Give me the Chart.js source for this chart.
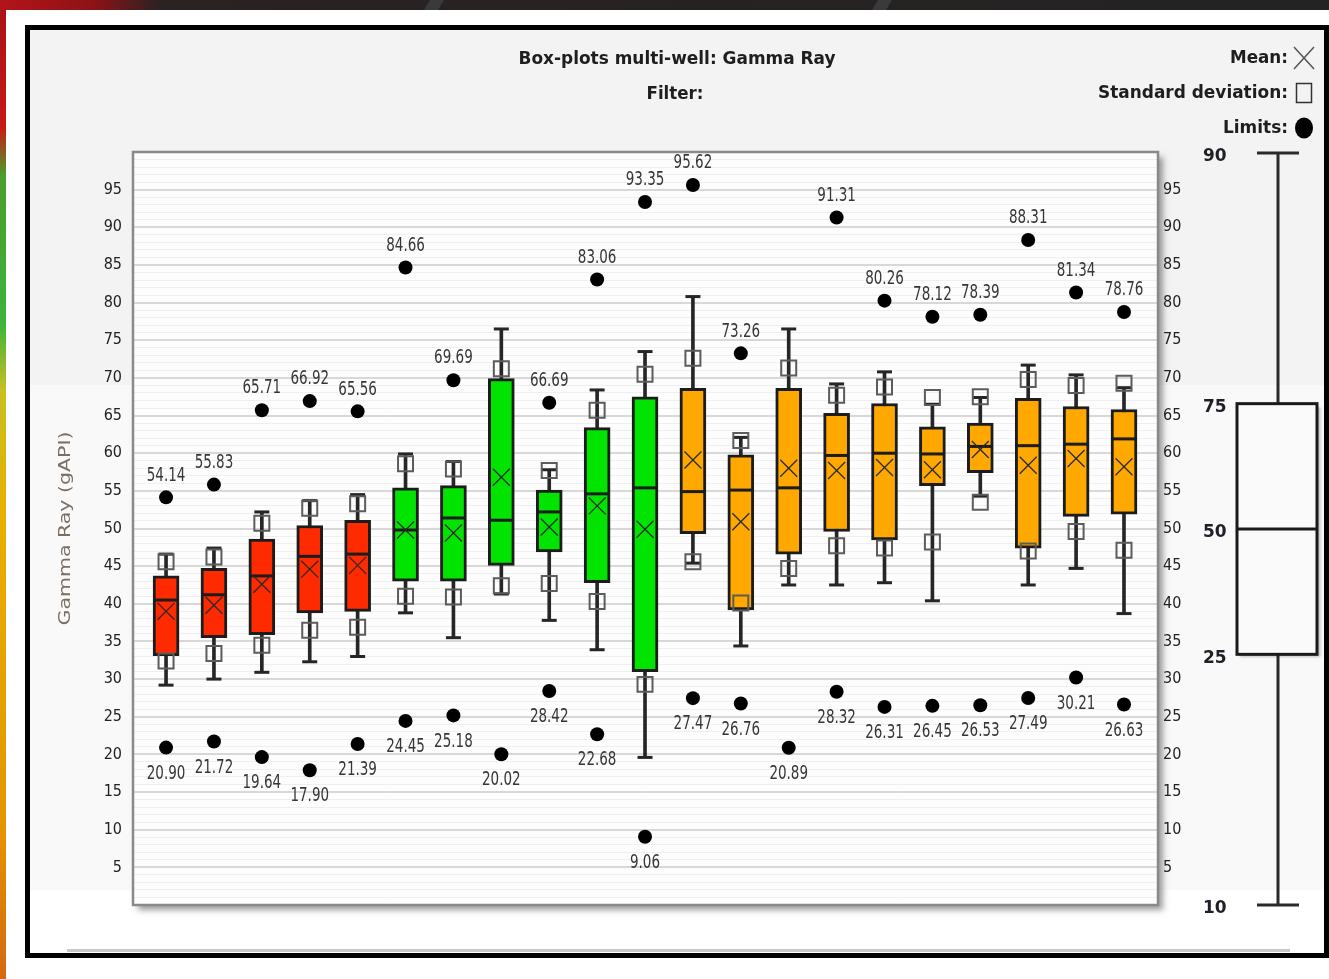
<!DOCTYPE html>
<html>
<head>
<meta charset="utf-8">
<title>Box-plots multi-well: Gamma Ray</title>
<script src="https://cdn.jsdelivr.net/npm/chart.js@4.4.1/dist/chart.umd.min.js"></script>
<style>
  html, body { margin: 0; padding: 0; background: #ffffff; }
  #wrap { position: relative; width: 1329px; height: 979px; overflow: hidden; }
  canvas { display: block; }
</style>
</head>
<body>
<div id="wrap"><canvas id="chart" width="1329" height="979"></canvas></div>
<script>
// Gamma Ray (gAPI) statistics, one box per well
const wells = ['W01','W02','W03','W04','W05','W06','W07','W08','W09','W10','W11',
               'W12','W13','W14','W15','W16','W17','W18','W19','W20','W21'];
const wellGroup = [0,0,0,0,0, 1,1,1,1,1,1, 2,2,2,2,2,2,2,2,2,2];
const groupColors = ['#ff2a00', '#00e400', '#ffa800'];

const whiskerLow  = [29.2, 30.0, 30.9, 32.3, 33.0, 38.8, 35.5, 41.3, 37.8, 33.9, 19.6, 45.4, 34.4, 42.5, 42.5, 42.8, 40.4, 54.3, 42.5, 44.7, 38.7];
const q1          = [33.1, 35.5, 35.9, 38.8, 39.0, 43.0, 43.0, 45.1, 46.9, 42.8, 31.0, 49.3, 39.2, 46.6, 49.6, 48.5, 55.7, 57.4, 47.4, 51.6, 51.9];
const median      = [40.5, 41.2, 43.7, 46.3, 46.6, 49.8, 51.4, 51.1, 52.2, 54.6, 55.4, 54.9, 55.1, 55.4, 59.7, 60.0, 59.9, 60.9, 61.0, 61.2, 61.9];
const q3          = [43.7, 44.7, 48.6, 50.4, 51.1, 55.4, 55.7, 69.9, 55.1, 63.4, 67.5, 68.6, 59.8, 68.6, 65.3, 66.6, 63.5, 64.0, 67.3, 66.2, 65.8];
const whiskerHigh = [46.6, 47.4, 52.2, 53.7, 54.5, 59.9, 58.9, 76.5, 57.8, 68.4, 73.5, 80.8, 62.1, 76.5, 69.2, 70.8, 66.5, 67.4, 71.7, 70.4, 68.7];
const mean        = [39.0, 39.8, 42.6, 44.6, 45.1, 49.8, 49.4, 56.8, 50.2, 53.0, 49.9, 59.1, 50.9, 58.0, 57.7, 58.1, 57.8, 60.5, 58.4, 59.3, 58.2];
const stdDev      = [6.6, 6.4, 8.1, 8.1, 8.2, 8.8, 8.5, 14.4, 7.5, 12.7, 20.6, 13.5, 10.8, 13.3, 10.0, 10.7, 9.6, 7.0, 11.4, 9.7, 11.1];
const minLimit    = [20.90, 21.72, 19.64, 17.90, 21.39, 24.45, 25.18, 20.02, 28.42, 22.68, 9.06, 27.47, 26.76, 20.89, 28.32, 26.31, 26.45, 26.53, 27.49, 30.21, 26.63];
const maxLimit    = [54.14, 55.83, 65.71, 66.92, 65.56, 84.66, 69.69, null, 66.69, 83.06, 93.35, 95.62, 73.26, null, 91.31, 80.26, 78.12, 78.39, 88.31, 81.34, 78.76];

const yTickLabels = [5, 10, 15, 20, 25, 30, 35, 40, 45, 50, 55, 60, 65, 70, 75, 80, 85, 90, 95];
const percentileLabels = ['90', '75', '50', '25', '10'];

const FONT_COND = '"DejaVu Sans Condensed", "DejaVu Sans", sans-serif';
const FONT = '"DejaVu Sans", Verdana, sans-serif';

const idx = wells.map((_, i) => i);
const boxColors = wellGroup.map(g => groupColors[g]);

// text squeezed horizontally to a given width
function fitText(ctx, text, x, y, font, width, align, color, angle) {
  ctx.save();
  ctx.font = font;
  ctx.fillStyle = color;
  ctx.textBaseline = 'middle';
  ctx.textAlign = align;
  const w = ctx.measureText(text).width;
  ctx.translate(x, y);
  if (angle) ctx.rotate(angle);
  ctx.scale(width / w, 1);
  ctx.fillText(text, 0, 0);
  ctx.restore();
}

const decor = {
  id: 'decor',
  beforeDraw(chart) {
    const { ctx, chartArea: a } = chart;
    const W = chart.width, H = chart.height;
    ctx.save();
    ctx.fillStyle = '#ffffff';
    ctx.fillRect(0, 0, W, H);

    // window strip along the top
    let g = ctx.createLinearGradient(0, 0, W, 0);
    g.addColorStop(0, '#b3141a');
    g.addColorStop(0.07, '#8e1216');
    g.addColorStop(0.12, '#2b2222');
    g.addColorStop(1, '#232323');
    ctx.fillStyle = g;
    ctx.fillRect(0, 0, W, 10);
    ctx.fillStyle = '#3a3a3a';
    [424, 872].forEach(x => {
      ctx.beginPath();
      ctx.moveTo(x + 6, 0); ctx.lineTo(x + 20, 0); ctx.lineTo(x + 14, 10); ctx.lineTo(x, 10);
      ctx.closePath(); ctx.fill();
    });

    // colour strip along the left edge
    g = ctx.createLinearGradient(0, 0, 0, H);
    g.addColorStop(0, '#a81018');
    g.addColorStop(0.13, '#c81a14');
    g.addColorStop(0.18, '#4a9e2a');
    g.addColorStop(0.33, '#3cb43c');
    g.addColorStop(0.40, '#c8c020');
    g.addColorStop(0.52, '#e8b000');
    g.addColorStop(0.85, '#e49400');
    g.addColorStop(1, '#d46810');
    ctx.fillStyle = g;
    ctx.fillRect(0, 10, 6, H - 10);

    // frame and panel
    ctx.fillStyle = '#000000';
    ctx.fillRect(25, 25, W - 25, 933);
    ctx.fillStyle = '#f3f3f3';
    ctx.fillRect(30, 30, 1294, 355);
    ctx.fillStyle = '#f9f9f9';
    ctx.fillRect(30, 385, 1294, 505);
    ctx.fillStyle = '#ffffff';
    ctx.fillRect(30, 890, 1294, 63);
    ctx.fillStyle = '#c8c8c8';
    ctx.fillRect(67, 949, 1223, 3);

    // plot area with drop shadow
    ctx.save();
    ctx.shadowColor = 'rgba(0,0,0,0.38)';
    ctx.shadowBlur = 6;
    ctx.shadowOffsetX = 5;
    ctx.shadowOffsetY = 5;
    ctx.fillStyle = '#fdfdfd';
    ctx.fillRect(a.left, a.top, a.right - a.left, a.bottom - a.top);
    ctx.restore();
    ctx.restore();
  },
  afterDatasetsDraw(chart) {
    const { ctx, chartArea: a, scales } = chart;
    const xS = scales.x, yS = scales.y;
    ctx.save();
    // plot border
    ctx.strokeStyle = '#8a8a8a';
    ctx.lineWidth = 2.5;
    ctx.strokeRect(a.left, a.top, a.right - a.left, a.bottom - a.top);

    // limit values
    ctx.font = '20px ' + FONT_COND;
    ctx.fillStyle = '#363636';
    ctx.textAlign = 'center';
    ctx.textBaseline = 'middle';
    const label = (txt, x, y) => {
      ctx.save();
      ctx.translate(x, y);
      ctx.scale(0.75, 1);
      ctx.fillText(txt, 0, 0);
      ctx.restore();
    };
    idx.forEach(i => {
      const x = xS.getPixelForValue(i);
      if (maxLimit[i] !== null) label(maxLimit[i].toFixed(2), x, yS.getPixelForValue(maxLimit[i]) - 22);
      label(minLimit[i].toFixed(2), x, yS.getPixelForValue(minLimit[i]) + 26);
    });
    ctx.restore();
  },
  afterDraw(chart) {
    const { ctx, chartArea: a } = chart;
    ctx.save();
    // headings
    fitText(ctx, 'Box-plots multi-well: Gamma Ray', 677, 59, 'bold 18px ' + FONT_COND, 317, 'center', '#1e1e1e');
    fitText(ctx, 'Filter:', 675, 94, 'bold 18px ' + FONT_COND, 57, 'center', '#1e1e1e');

    // key
    fitText(ctx, 'Mean:', 1288, 58, 'bold 18px ' + FONT_COND, 58, 'right', '#1e1e1e');
    fitText(ctx, 'Standard deviation:', 1288, 93, 'bold 18px ' + FONT_COND, 190, 'right', '#1e1e1e');
    fitText(ctx, 'Limits:', 1288, 128, 'bold 18px ' + FONT_COND, 65, 'right', '#1e1e1e');
    ctx.strokeStyle = '#555555';
    ctx.lineWidth = 1.5;
    ctx.beginPath();
    ctx.moveTo(1294, 47); ctx.lineTo(1314, 69);
    ctx.moveTo(1314, 47); ctx.lineTo(1294, 69);
    ctx.stroke();
    ctx.strokeStyle = '#333333';
    ctx.strokeRect(1296.5, 83.5, 15, 19);
    ctx.fillStyle = '#000000';
    ctx.beginPath();
    ctx.ellipse(1304, 128, 9, 10.5, 0, 0, Math.PI * 2);
    ctx.fill();

    // axis title
    fitText(ctx, 'Gamma Ray (gAPI)', 66, (a.top + a.bottom) / 2, '16px ' + FONT, 194, 'center', '#7d6e62', -Math.PI / 2);

    // percentile schematic
    const top = a.top + 1, bot = a.bottom, h = bot - top;
    const ys = [top, top + h / 3, top + h / 2, top + 2 * h / 3, bot];
    const cx = 1278;
    ctx.strokeStyle = '#2a2a2a';
    ctx.lineWidth = 3;
    ctx.beginPath();
    ctx.moveTo(cx, top); ctx.lineTo(cx, bot);
    ctx.moveTo(1257, top); ctx.lineTo(1299, top);
    ctx.moveTo(1257, bot); ctx.lineTo(1299, bot);
    ctx.stroke();
    ctx.save();
    ctx.shadowColor = 'rgba(0,0,0,0.3)';
    ctx.shadowBlur = 3;
    ctx.shadowOffsetX = 3;
    ctx.shadowOffsetY = 3;
    ctx.fillStyle = '#fafafa';
    ctx.fillRect(1237, ys[1], 80, ys[3] - ys[1]);
    ctx.restore();
    ctx.strokeStyle = '#1a1a1a';
    ctx.strokeRect(1237, ys[1], 80, ys[3] - ys[1]);
    ctx.beginPath();
    ctx.moveTo(1237, ys[2]); ctx.lineTo(1317, ys[2]);
    ctx.stroke();
    ctx.font = 'bold 17px ' + FONT;
    ctx.fillStyle = '#1f1f28';
    ctx.textAlign = 'left';
    ctx.textBaseline = 'middle';
    percentileLabels.forEach((t, k) => ctx.fillText(t, 1203, ys[k] + 4));
    ctx.restore();
  }
};

const tickFont = { family: FONT_COND, size: 16 };
const tickCallback = v => (yTickLabels.includes(v) ? String(v) : '');

new Chart(document.getElementById('chart'), {
  type: 'bar',
  data: {
    datasets: [
      {
        type: 'bar', label: 'Whiskers', order: 6, grouped: false,
        data: idx.map(i => ({ x: i, y: [whiskerLow[i], whiskerHigh[i]] })),
        backgroundColor: '#262626', barThickness: 3
      },
      {
        type: 'bar', label: 'Interquartile range', order: 5, grouped: false,
        data: idx.map(i => ({ x: i, y: [q1[i], q3[i]] })),
        backgroundColor: boxColors, borderColor: '#1c1c1c', borderWidth: 3,
        borderSkipped: false, barThickness: 26
      },
      {
        type: 'scatter', label: 'Median', order: 4,
        data: idx.map(i => ({ x: i, y: median[i] })),
        pointStyle: 'line', pointRadius: 12.5, borderColor: '#1c1c1c', borderWidth: 3
      },
      {
        type: 'scatter', label: 'Whisker caps', order: 3,
        data: idx.map(i => ({ x: i, y: whiskerLow[i] })).concat(idx.map(i => ({ x: i, y: whiskerHigh[i] }))),
        pointStyle: 'line', pointRadius: 7.5, borderColor: '#262626', borderWidth: 3
      },
      {
        type: 'scatter', label: 'Mean', order: 2,
        data: idx.map(i => ({ x: i, y: mean[i] })),
        pointStyle: 'crossRot', pointRadius: 12, borderColor: '#2a2a2a', borderWidth: 1.3
      },
      {
        type: 'scatter', label: 'Standard deviation', order: 1,
        data: idx.map(i => ({ x: i, y: mean[i] + stdDev[i] })).concat(idx.map(i => ({ x: i, y: mean[i] - stdDev[i] }))),
        pointStyle: 'rect', pointRadius: 10.6, backgroundColor: 'rgba(0,0,0,0)',
        borderColor: '#5c5c5c', borderWidth: 2
      },
      {
        type: 'scatter', label: 'Limits', order: 0,
        data: idx.map(i => ({ x: i, y: minLimit[i] }))
          .concat(idx.filter(i => maxLimit[i] !== null).map(i => ({ x: i, y: maxLimit[i] }))),
        pointStyle: 'circle', pointRadius: 7, backgroundColor: '#000000', borderColor: '#000000', borderWidth: 0
      }
    ]
  },
  options: {
    responsive: false,
    animation: false,
    events: [],
    layout: { padding: { left: 0, right: 131, top: 152, bottom: 74 } },
    plugins: { legend: { display: false }, tooltip: { enabled: false }, title: { display: false } },
    scales: {
      x: {
        type: 'linear', min: -0.69, max: 20.71, offset: false, display: false
      },
      y: {
        type: 'linear', position: 'left', min: 0, max: 100,
        afterFit: s => { s.width = 133; },
        border: { display: false },
        grid: {
          drawTicks: false,
          color: c => (c.tick && c.tick.value % 5 === 0 ? '#d8d8d8' : '#efefef'),
          lineWidth: c => (c.tick && c.tick.value % 5 === 0 ? 2 : 1)
        },
        ticks: {
          stepSize: 1, maxTicksLimit: 200, autoSkip: false, padding: 11,
          color: '#222222', font: tickFont, callback: tickCallback
        }
      },
      yR: {
        type: 'linear', position: 'right', min: 0, max: 100,
        afterFit: s => { s.width = 40; },
        border: { display: false },
        grid: { display: false, drawTicks: false },
        ticks: {
          stepSize: 1, maxTicksLimit: 200, autoSkip: false, padding: 5,
          color: '#222222', font: tickFont, callback: tickCallback
        }
      }
    }
  },
  plugins: [decor]
});
</script>
</body>
</html>
